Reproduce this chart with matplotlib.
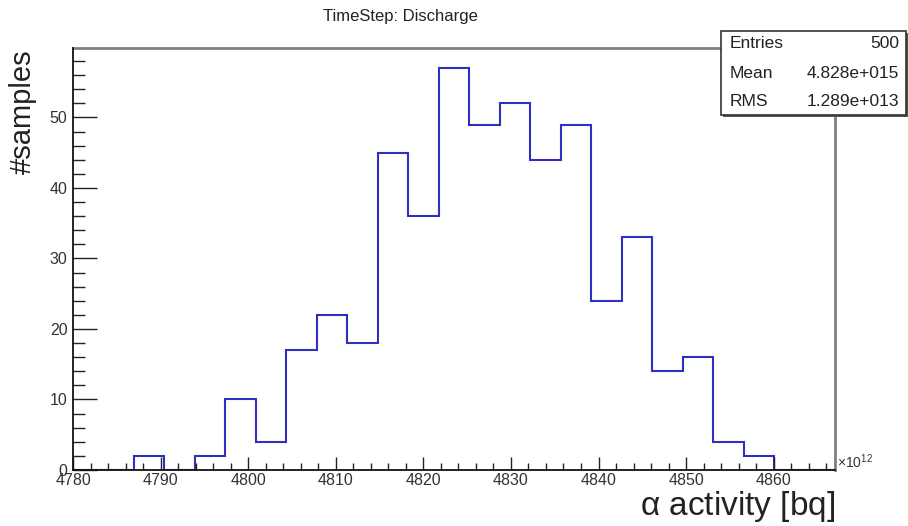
import numpy as np
import matplotlib
matplotlib.use('Agg')
import matplotlib.pyplot as plt
from matplotlib.patches import Rectangle
from matplotlib.ticker import MultipleLocator

plt.rcParams['font.family'] = ['Liberation Sans', 'DejaVu Sans']

# ===== histogram data (TH1-like: nbins, xmin, xmax in units of 1e12 bq)
n_bins = 25
x_min = 4780.0
x_max = 4867.0
counts = [0, 0, 2, 0, 2, 10, 4, 17, 22, 18, 45, 36, 57,
          49, 52, 44, 49, 24, 33, 14, 16, 4, 2, 0, 0]

title = 'TimeStep: Discharge'
x_label = r'$\mathregular{\alpha}$ activity [bq]'
y_label = '#samples'
stat_names = ['Entries', 'Mean', 'RMS']
stat_values = ['500', '4.828e+015', '1.289e+013']

W, H = 908, 526


def fx(px):
    return px / W


def fy(py):
    return 1 - py / H


fig = plt.figure(figsize=(W / 100, H / 100), dpi=100)
ax = fig.add_axes([fx(73), fy(470), fx(835) - fx(73), fy(48) - fy(470)])

edges = np.linspace(x_min, x_max, n_bins + 1)
ax.stairs(counts, edges, color='#2f2fc0', lw=1.5, zorder=1)

ax.set_xlim(x_min, x_max)
ax.set_ylim(0, max(counts) * 1.05)

# ===== axis styling, ROOT look
ax.xaxis.set_major_locator(MultipleLocator(10))
ax.xaxis.set_minor_locator(MultipleLocator(2))
ax.yaxis.set_major_locator(MultipleLocator(10))
ax.yaxis.set_minor_locator(MultipleLocator(2))
ax.tick_params(axis='x', which='major', direction='in', length=9.5, width=1,
               labelsize=11.5, pad=2, colors='#222222', labelcolor='#333333')
ax.tick_params(axis='x', which='minor', direction='in', length=5, width=1, colors='#222222')
ax.tick_params(axis='y', which='major', direction='in', length=17, width=1,
               labelsize=11.5, pad=4, colors='#222222', labelcolor='#333333')
ax.tick_params(axis='y', which='minor', direction='in', length=8.5, width=1, colors='#222222')
ax.tick_params(top=False, right=False)

for side in ['left', 'bottom']:
    ax.spines[side].set_color('#111111')
    ax.spines[side].set_linewidth(1.3)
    ax.spines[side].set_zorder(3)
for side in ['top', 'right']:
    ax.spines[side].set_color('#808080')
    ax.spines[side].set_linewidth(2)

# ===== texts
fig.text(fx(400), fy(17), title, ha='center', va='center', fontsize=12, color='#222222')
fig.text(fx(23), fy(49), y_label, rotation=90, ha='center', va='top', fontsize=21, color='#222222')
fig.text(fx(835), fy(506), x_label, ha='right', va='center', fontsize=24, color='#222222')
fig.text(fx(837), fy(471), r'$\mathregular{\times10^{12}}$', ha='left', va='bottom',
         fontsize=10, color='#333333')

# ===== stats box
box_l, box_t, box_r, box_b = 721, 31, 906, 115
fig.patches.append(Rectangle((fx(box_l + 2), fy(box_b + 2)), fx(box_r) - fx(box_l),
                             fy(box_t) - fy(box_b), transform=fig.transFigure,
                             facecolor='#555555', edgecolor='none', zorder=4))
fig.patches.append(Rectangle((fx(box_l), fy(box_b)), fx(box_r) - fx(box_l),
                             fy(box_t) - fy(box_b), transform=fig.transFigure,
                             facecolor='white', edgecolor='#333333', lw=1.2, zorder=5))
row_y = [44, 73, 101]
for name, val, ry in zip(stat_names, stat_values, row_y):
    fig.text(fx(730), fy(ry), name, ha='left', va='center', fontsize=12.5,
             color='#222222', zorder=6)
    fig.text(fx(899), fy(ry), val, ha='right', va='center', fontsize=12.5,
             color='#222222', zorder=6)

fig.savefig('out.png', dpi=100)
